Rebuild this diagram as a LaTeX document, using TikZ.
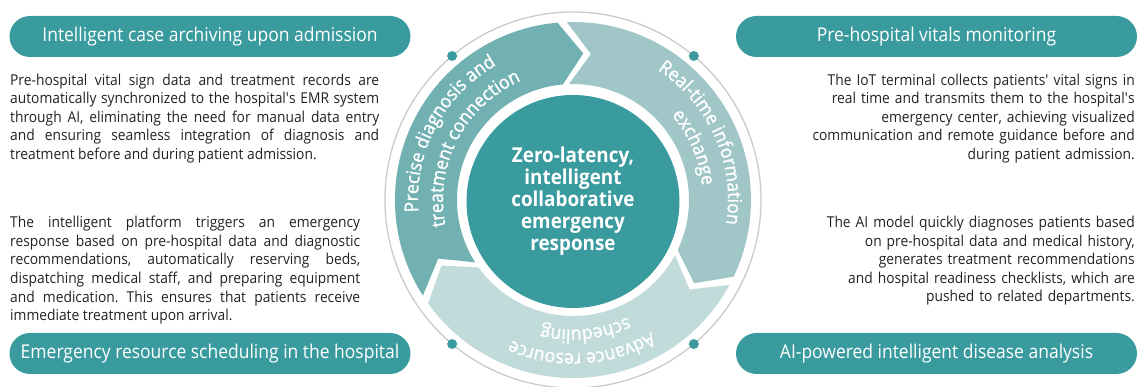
\documentclass[tikz,border=0pt]{standalone}
\usepackage{fontspec}
\setmainfont{Open Sans}[FakeStretch=0.92]
\newfontfamily\ringfont{Open Sans}[FakeStretch=0.92, FakeBold=1.2]
\usetikzlibrary{decorations.text}
\definecolor{tealmain}{HTML}{3A9B9F}
\definecolor{segA}{HTML}{72B1B2}
\definecolor{segB}{HTML}{A0C6C7}
\definecolor{segC}{HTML}{C1DADA}
\definecolor{bodytxt}{HTML}{222222}
\definecolor{ringgray}{HTML}{CACACA}
\tikzset{
  pill/.style={fill=tealmain, rounded corners=20.5pt, minimum width=401pt, minimum height=41pt,
    inner sep=0pt, text=white, font=\fontsize{19}{22}\selectfont},
  para/.style={inner sep=0pt, text=bodytxt, font=\fontsize{15}{18.6}\selectfont\frenchspacing},
  tealdot/.style={circle, fill=tealmain, minimum size=10pt, inner sep=0pt},
  core/.style={circle, fill=tealmain, minimum size=213pt, inner sep=0pt, text=white, align=center,
    font=\bfseries\fontsize{20.5}{22}\selectfont},
}
\newcommand\ringseg[3]{%
  \fill[#1] (#2:178) arc[start angle=#2, end angle=#3, radius=178] -- ({#3-9}:147)
    -- (#3:116) arc[start angle=#3, end angle=#2, radius=116] -- ({#2-9}:147) -- cycle;}
\newcommand\ringlabel[4]{% start angle, end angle, radius, text
  \path[decorate, decoration={text along path, text align=center, text color=white,
    text={|\ringfont\fontsize{19}{22}\selectfont|#4}}] (#1:#3) arc[start angle=#1, end angle=#2, radius=#3];}
\newcommand\apos{\textquotesingle}
\begin{document}
\begin{tikzpicture}[x=1pt, y=1pt]
\useasboundingbox (-573,-187) rectangle (567,200);
\clip (-573,-187) rectangle (567,200);
% outer thin circle
\draw[ringgray, line width=1.3pt] (0,0) circle[radius=188];
% ring segments
\ringseg{segA}{212.5}{95}
\ringseg{segB}{92}{-25.5}
\ringseg{segC}{-28.5}{-144.5}
% ring labels
\ringlabel{207}{97}{155}{Precise diagnosis and}
\ringlabel{207.5}{97.5}{130}{treatment connection}
\ringlabel{84}{-36}{155}{Real-time information}
\ringlabel{78.5}{-31.5}{130}{exchange}
\ringlabel{-26.6}{-146.6}{153.5}{Advance resource}
\ringlabel{-24.5}{-144.5}{129.5}{scheduling}
% centre
\node[core] (hub) at (0,-1.5) {Zero-latency,\\intelligent\\collaborative\\emergency\\response};
% dots
\node[tealdot] (dot1) at (130:188) {};
\node[tealdot] (dot2) at (50:188) {};
\node[tealdot] (dot3) at (-50:188) {};
\node[tealdot] (dot4) at (-130:188) {};
% headers
\node[pill] (h1) at (-363,163.5) {Intelligent case archiving upon admission};
\node[pill] (h2) at (363.5,163.5) {Pre-hospital vitals monitoring};
\node[pill] (h3) at (-363,-153.5) {Emergency resource scheduling in the hospital};
\node[pill] (h4) at (363.5,-153.5) {AI-powered intelligent disease analysis};
% paragraphs
\node[para, anchor=north west, text width=369pt, align=justify] (p1) at (-563,126.5)
  {Pre-hospital vital sign data and treatment records are\linebreak
   automatically synchronized to the hospital\apos s EMR system\linebreak
   through AI, eliminating the need for manual data entry\linebreak
   and ensuring seamless integration of diagnosis and\linebreak
   treatment before and during patient admission.};
\node[para, anchor=north west, text width=350pt, align=justify] (p3) at (-563,-16)
  {The intelligent platform triggers an emergency\linebreak
   response based on pre-hospital data and diagnostic\linebreak
   recommendations, automatically reserving beds,\linebreak
   dispatching medical staff, and preparing equipment\linebreak
   and medication. This ensures that patients receive\linebreak
   immediate treatment upon arrival.};
\node[para, anchor=north east, text width=360pt, align=right] (p2) at (562,126.5)
  {The IoT terminal collects patients\apos\ vital signs in\\
   real time and transmits them to the hospital\apos s\\
   emergency center, achieving visualized\\
   communication and remote guidance before and\\
   during patient admission.};
\node[para, anchor=north east, text width=360pt, align=right] (p4) at (562,-16)
  {The AI model quickly diagnoses patients based\\
   on pre-hospital data and medical history,\\
   generates treatment recommendations\\
   and hospital readiness checklists, which are\\
   pushed to related departments.};
\end{tikzpicture}
\end{document}
